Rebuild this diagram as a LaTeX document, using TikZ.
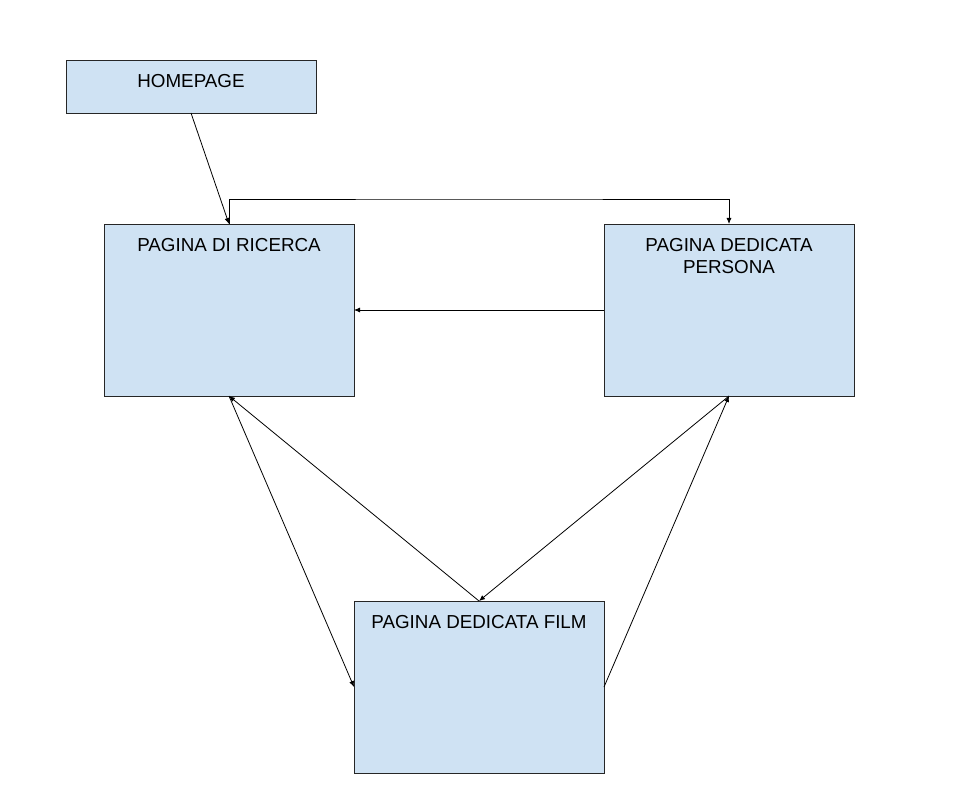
\documentclass[tikz,border=0pt]{standalone}
\usepackage{fontspec}
\setmainfont{Liberation Sans}
\usepackage{xcolor}
\usetikzlibrary{arrows.meta,positioning}
\definecolor{boxblue}{HTML}{CFE2F3}
\tikzset{page/.style={draw=black!85,fill=boxblue,line width=0.8pt,
           minimum width=250pt,minimum height=172pt,inner sep=0pt,outer sep=0pt},
         link/.style={-{Latex[length=6pt,width=5pt]},line width=0.8pt},
         ttl/.style={font=\fontsize{18.8}{22}\selectfont,align=center,inner sep=0pt}}
\begin{document}
\begin{tikzpicture}[x=1pt,y=-1pt]
\useasboundingbox (0,0) rectangle (969,794);
% pages
\node[page,minimum height=53pt] (home) at (191,86.5) {};
\node[page] (ricerca) at (229,310) {};
\node[page] (persona) at (729,310) {};
\node[page] (film) at (479,687) {};
% titles
\node[ttl,below=14.5pt of home.north] (hometxt) {HOMEPAGE};
\node[ttl,below=14.5pt of ricerca.north] (ricercatxt) {PAGINA DI RICERCA};
\node[ttl,below=14.5pt of persona.north] (personatxt) {PAGINA DEDICATA\\PERSONA};
\node[ttl,below=14.5pt of film.north] (filmtxt) {PAGINA DEDICATA FILM};
% links
\coordinate (bend) at (479,199);
\draw[link] (home.south) -- (ricerca.north);
\draw[link] (ricerca.north) |- (bend) -| (persona.north);
\draw[link] (persona.west) -- (ricerca.east);
\draw[link] (ricerca.south) -- (film.west);
\draw[link] (film.north) -- (ricerca.south);
\draw[link] (persona.south) -- (film.north);
\draw[link] (film.east) -- (persona.south);
\end{tikzpicture}
\end{document}
